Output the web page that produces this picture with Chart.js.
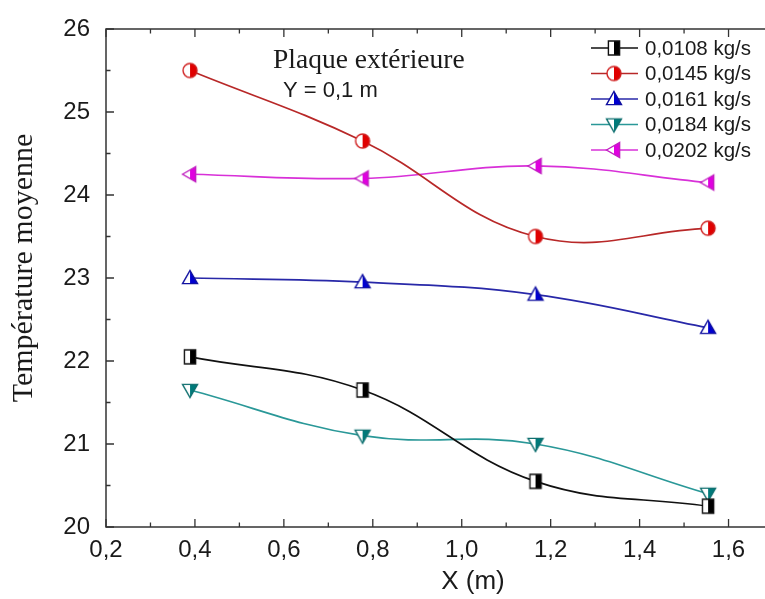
<!DOCTYPE html>
<html><head><meta charset="utf-8">
<script src="https://cdn.jsdelivr.net/npm/chart.js@4/dist/chart.umd.min.js"></script>
<style>
html,body{margin:0;padding:0;background:#fff;overflow:hidden;width:765px;height:599px}
#wrap{width:790px;height:599px;position:relative}
</style></head>
<body><div id="wrap"><canvas id="c" width="790" height="599"></canvas></div>
<script>
const xPositions = [0.389, 0.777, 1.166, 1.554];
const seriesLabels = ['0,0108 kg/s','0,0145 kg/s','0,0161 kg/s','0,0184 kg/s','0,0202 kg/s'];
const s0108 = [22.05, 21.65, 20.55, 20.25];
const s0145 = [25.5, 24.65, 23.5, 23.6];
const s0161 = [23.0, 22.95, 22.8, 22.4];
const s0184 = [21.65, 21.1, 21.0, 20.4];
const s0202 = [24.25, 24.2, 24.35, 24.15];
const xTickLabels = ['0,2','0,4','0,6','0,8','1,0','1,2','1,4','1,6'];
const yTickLabels = ['20','21','22','23','24','25','26'];
const xAxisTitle = 'X (m)';
const yAxisTitle = 'Température moyenne';
const noteTitle = 'Plaque extérieure';
const noteSub = 'Y = 0,1 m';

const SANS = "'Liberation Sans', Arial, sans-serif";
const SERIF = "'Liberation Serif', 'Times New Roman', serif";

function makeMarker(shape, stroke, fill, size) {
  const S = 22;
  const c = document.createElement('canvas');
  c.width = S; c.height = S;
  const g = c.getContext('2d');
  const m = S / 2, r = size / 2;
  function path() {
    g.beginPath();
    if (shape === 'square') g.rect(m - r * 0.8, m - r, r * 1.6, r * 2);
    else if (shape === 'circle') g.arc(m, m, r, 0, Math.PI * 2);
    else if (shape === 'up') { g.moveTo(m, m - r); g.lineTo(m + r, m + r * 0.75); g.lineTo(m - r, m + r * 0.75); g.closePath(); }
    else if (shape === 'down') { g.moveTo(m, m + r); g.lineTo(m + r, m - r * 0.75); g.lineTo(m - r, m - r * 0.75); g.closePath(); }
    else if (shape === 'left') { g.moveTo(m - r, m); g.lineTo(m + r * 0.75, m - r); g.lineTo(m + r * 0.75, m + r); g.closePath(); }
  }
  path(); g.fillStyle = '#fff'; g.fill();
  g.save(); path(); g.clip(); g.fillStyle = fill; g.fillRect(m, 0, S, S); g.restore();
  path(); g.lineWidth = 1.4; g.strokeStyle = stroke; g.stroke();
  return c;
}

const seriesValues = [s0108, s0145, s0161, s0184, s0202];
const lineColors = ['#111111', '#b82828', '#2828a8', '#2a9898', '#d830d8'];
const markers = [
  makeMarker('square', '#111', '#000', 14),
  makeMarker('circle', '#d02020', '#e00000', 14),
  makeMarker('up', '#1010a0', '#0000d0', 15),
  makeMarker('down', '#107070', '#007a7a', 15),
  makeMarker('left', '#c020c0', '#e000e0', 15)
];

const datasets = seriesValues.map((vals, i) => ({
  label: seriesLabels[i],
  data: vals.map((v, j) => ({ x: xPositions[j], y: v })),
  borderColor: lineColors[i],
  borderWidth: 1.7,
  tension: 0.4,
  pointStyle: markers[i],
  pointRadius: 7,
  fill: false
}));

const decor = {
  id: 'decor',
  beforeDatasetsDraw(chart) {
    const ctx = chart.ctx, a = chart.chartArea;
    ctx.save();
    ctx.strokeStyle = '#333'; ctx.lineWidth = 1.5;
    ctx.strokeRect(a.left, a.top, a.right - a.left, a.bottom - a.top);
    const xs = chart.scales.x, ys = chart.scales.y;
    ctx.lineWidth = 1.3;
    xs.ticks.forEach(t => {
      const px = xs.getPixelForValue(t.value);
      const L = t.label ? 8 : 4.5;
      ctx.beginPath();
      ctx.moveTo(px, a.bottom); ctx.lineTo(px, a.bottom - L);
      ctx.moveTo(px, a.top); ctx.lineTo(px, a.top + L);
      ctx.stroke();
    });
    ys.ticks.forEach(t => {
      const py = ys.getPixelForValue(t.value);
      const L = t.label ? 8 : 4.5;
      ctx.beginPath();
      ctx.moveTo(a.left, py); ctx.lineTo(a.left + L, py);
      ctx.moveTo(a.right, py); ctx.lineTo(a.right - L, py);
      ctx.stroke();
    });
    ctx.restore();
  },
  afterDatasetsDraw(chart) {
    const ctx = chart.ctx;
    ctx.save();
    chart.data.datasets.forEach((ds, i) => {
      const y = 48 + i * 25.5;
      ctx.strokeStyle = ds.borderColor; ctx.lineWidth = 1.7;
      ctx.beginPath(); ctx.moveTo(591, y); ctx.lineTo(638, y); ctx.stroke();
      const mk = ds.pointStyle;
      ctx.drawImage(mk, 614 - mk.width / 2, y - mk.height / 2);
      ctx.fillStyle = '#1a1a1a';
      ctx.font = '20.5px ' + SANS;
      ctx.textAlign = 'left'; ctx.textBaseline = 'middle';
      ctx.fillText(ds.label, 645, y + 1);
    });
    ctx.fillStyle = '#1a1a1a';
    ctx.font = '27.5px ' + SERIF;
    ctx.textAlign = 'left'; ctx.textBaseline = 'alphabetic';
    ctx.fillText(noteTitle, 273, 68);
    ctx.font = '22px ' + SANS;
    ctx.fillText(noteSub, 283, 97);
    ctx.font = '26px ' + SANS;
    ctx.textAlign = 'center';
    ctx.fillText(xAxisTitle, 473, 589);
    ctx.save();
    ctx.translate(32, 268);
    ctx.rotate(-Math.PI / 2);
    ctx.font = '30px ' + SERIF;
    ctx.fillText(yAxisTitle, 0, 0);
    ctx.restore();
    ctx.restore();
  }
};

function xLabel(v) {
  const k = (v - 0.2) / 0.2;
  const r = Math.round(k);
  return Math.abs(k - r) < 1e-6 && r >= 0 && r < xTickLabels.length ? xTickLabels[r] : '';
}
function yLabel(v) {
  const r = Math.round(v);
  return Math.abs(v - r) < 1e-6 ? (yTickLabels[r - 20] || '') : '';
}

new Chart(document.getElementById('c'), {
  type: 'line',
  data: { datasets },
  options: {
    responsive: false,
    animation: false,
    layout: { padding: { left: 0, top: 29, right: 17, bottom: 0 } },
    plugins: { legend: { display: false }, tooltip: { enabled: false } },
    scales: {
      x: {
        type: 'linear', min: 0.2, max: 1.7,
        grid: { display: false, drawTicks: false },
        border: { display: false },
        ticks: { stepSize: 0.1, autoSkip: false, maxRotation: 0, padding: 11,
          color: '#1a1a1a', font: { family: SANS, size: 24, lineHeight: 1 },
          callback: v => xLabel(v) },
        afterFit: s => { s.height = 72; }
      },
      y: {
        type: 'linear', min: 20, max: 26,
        grid: { display: false, drawTicks: false },
        border: { display: false },
        ticks: { stepSize: 0.5, autoSkip: false, padding: 16,
          color: '#1a1a1a', font: { family: SANS, size: 24, lineHeight: 1 },
          callback: v => yLabel(v) },
        afterFit: s => { s.width = 106; }
      }
    }
  },
  plugins: [decor]
});
</script>
</body></html>
